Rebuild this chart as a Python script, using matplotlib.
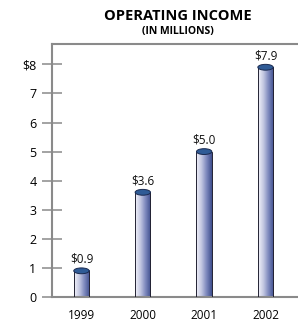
import numpy as np
import matplotlib.pyplot as plt
from matplotlib.patches import Ellipse, Rectangle
from matplotlib.colors import LinearSegmentedColormap

years = ['1999', '2000', '2001', '2002']
income = [0.9, 3.6, 5.0, 7.9]
labels = ['$0.9', '$3.6', '$5.0', '$7.9']
yticks = [0, 1, 2, 3, 4, 5, 6, 7, 8]
ytick_labels = ['0', '1', '2', '3', '4', '5', '6', '7', '$8']

plt.rcParams['font.family'] = ['Open Sans', 'DejaVu Sans']

fig = plt.figure(figsize=(2.98, 3.23), dpi=100)
ax = fig.add_axes([0.1745, 0.0805, 0.84, 0.7833])

# gradiente claro -> azul oscuro para el cuerpo del cilindro
cmap = LinearSegmentedColormap.from_list('cil', ['#f2f2fa', '#c4c8e2', '#7d88bd', '#3f4f8e'])
grad = np.linspace(0, 1, 64).reshape(1, -1)
w = 0.25
eh = 0.2

for i, v in enumerate(income):
    x0 = i - w / 2
    ax.imshow(grad, cmap=cmap, aspect='auto', extent=[x0, x0 + w, 0, v], zorder=2)
    ax.add_patch(Rectangle((x0, 0), w, v, fill=False, edgecolor='#222233', lw=0.7, zorder=3))
    ax.add_patch(Ellipse((i, v), w, eh, facecolor='#2f5b96', edgecolor='#1a2a50', lw=0.7, zorder=4))
    ax.text(i, v + 0.17, labels[i], ha='center', va='bottom', fontsize=8.5, color='#111111')

ax.set_xlim(-0.48, 3.6)
ax.set_ylim(0, 8.7)
ax.set_xticks(range(len(years)))
ax.set_xticklabels(years, fontsize=8.5)
ax.set_yticks(yticks)
ax.set_yticklabels(ytick_labels, fontsize=9)
ax.tick_params(axis='x', length=0, pad=9)
ax.tick_params(axis='y', direction='inout', length=14.4, width=1.1, color='#8a8a8a', pad=4)
for s in ['left', 'bottom', 'top']:
    ax.spines[s].set_color('#8a8a8a')
    ax.spines[s].set_linewidth(1.5)
ax.spines['right'].set_visible(False)

fig.text(0.598, 0.951, 'OPERATING INCOME', ha='center', va='center', fontsize=10.5, fontweight='bold')
fig.text(0.598, 0.904, '(IN MILLIONS)', ha='center', va='center', fontsize=7.5, fontweight='bold')

fig.savefig('out.png', dpi=100)
